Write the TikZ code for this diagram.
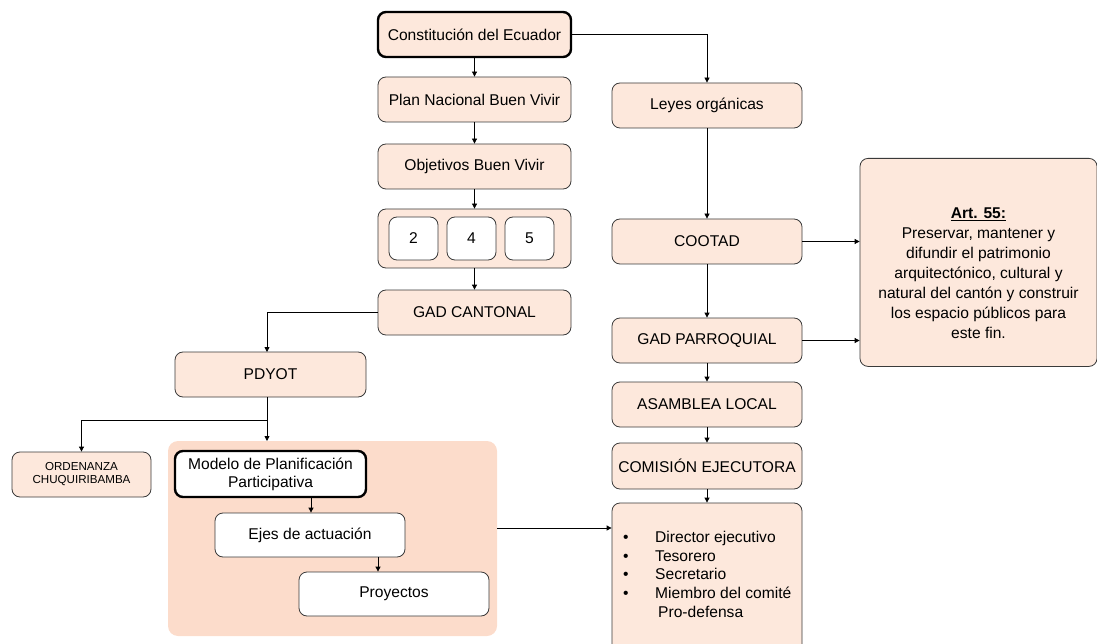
\documentclass[tikz,border=0pt]{standalone}
\usepackage{fontspec}
\setmainfont{Liberation Sans}
\usetikzlibrary{arrows.meta,calc}
\definecolor{boxfill}{HTML}{FDE8DC}
\definecolor{bgfill}{HTML}{FCDCCB}
\definecolor{edge}{HTML}{3A3A3A}
\tikzset{
  bx/.style={draw=edge, line width=0.8pt, fill=boxfill, rounded corners=8pt, align=center, inner sep=2pt, font=\fontsize{15.6}{19}\selectfont},
  thickbx/.style={bx, line width=2.4pt, draw=black},
  whitebx/.style={bx, fill=white},
  arr/.style={draw=black, line width=0.8pt, -{Triangle[width=5pt,length=5pt]}},
  ln/.style={draw=black, line width=0.8pt},
}
\begin{document}
\begin{tikzpicture}[x=1pt,y=-1pt]
\useasboundingbox (0,0) rectangle (1097,644);
\clip (0,0) rectangle (1097,644);
% background group
\node[fill=bgfill, rounded corners=10pt, minimum width=329pt, minimum height=195pt, inner sep=0pt] (bg) at (332.5,538.5) {};
% left column
\node[thickbx, fill=boxfill, minimum width=193pt, minimum height=45pt] (const) at (474.5,34.5) {Constitución del Ecuador};
\node[bx, minimum width=193pt, minimum height=45pt] (plan) at (474.5,99.5) {Plan Nacional Buen Vivir};
\node[bx, minimum width=193pt, minimum height=45pt] (obj) at (474.5,166.5) {Objetivos Buen Vivir};
\node[bx, minimum width=193pt, minimum height=59pt] (cont) at (474.5,238.5) {};
\node[whitebx, minimum width=49pt, minimum height=43pt] (n2) at (413.5,238.5) {2};
\node[whitebx, minimum width=49pt, minimum height=43pt] (n4) at (471.5,238.5) {4};
\node[whitebx, minimum width=49pt, minimum height=43pt] (n5) at (529.5,238.5) {5};
\node[bx, minimum width=193pt, minimum height=45pt] (gadc) at (474.5,312.5) {GAD CANTONAL};
\node[bx, minimum width=191pt, minimum height=45pt] (pdyot) at (270.5,374.5) {PDYOT};
\node[bx, minimum width=139pt, minimum height=45pt, font=\fontsize{11.6}{13}\selectfont] (ord) at (81.5,474.5) {ORDENANZA\\CHUQUIRIBAMBA};
\node[thickbx, fill=white, minimum width=191pt, minimum height=46pt, font=\fontsize{15.6}{18}\selectfont] (modelo) at (270.5,474) {Modelo de Planificación\\Participativa};
\node[whitebx, minimum width=190pt, minimum height=44pt] (ejes) at (310,535) {Ejes de actuación};
\node[whitebx, minimum width=190pt, minimum height=44pt] (proy) at (394,594) {Proyectos};
% right column
\node[bx, minimum width=190pt, minimum height=45pt] (leyes) at (707,105.5) {Leyes orgánicas};
\node[bx, minimum width=190pt, minimum height=45pt] (cootad) at (707,241.5) {COOTAD};
\node[bx, minimum width=190pt, minimum height=45pt] (gadp) at (707,340.5) {GAD PARROQUIAL};
\node[bx, minimum width=190pt, minimum height=45pt] (asam) at (707,404.5) {ASAMBLEA LOCAL};
\node[bx, minimum width=190pt, minimum height=46pt] (com) at (707,466) {COMISIÓN EJECUTORA};
\node[bx, minimum width=190pt, minimum height=150pt] (lista) at (707,578) {};
\node[bx, minimum width=237pt, minimum height=208pt, anchor=north] (art) at (978.5,158) {};
\node[font=\fontsize{15.6}{20}\selectfont, align=center, anchor=north] (arttxt) at (978.5,204) {\underline{\textbf{Art. 55:}}\\Preservar, mantener y\\difundir el patrimonio\\arquitectónico, cultural y\\natural del cantón y construir\\los espacio públicos para\\este fin.};
% list contents
\node[font=\fontsize{15.6}{18.7}\selectfont, align=left, anchor=north west, inner sep=0pt] (listtxt) at (623,531) {%
\makebox[32pt][l]{\textbullet}Director ejecutivo\\
\makebox[32pt][l]{\textbullet}Tesorero\\
\makebox[32pt][l]{\textbullet}Secretario\\
\makebox[32pt][l]{\textbullet}Miembro del comité\\
\hspace*{35pt}Pro-defensa};
% connectors
\draw[arr] (const.south) -- (plan.north);
\draw[arr] (const.east) -| (leyes.north);
\draw[arr] (plan.south) -- (obj.north);
\draw[arr] (obj.south) -- (cont.north);
\draw[arr] (cont.south) -- (gadc.north);
\coordinate (pdtop) at (267,352);
\draw[arr] (gadc.west) -| (pdtop);
\coordinate (pdbot) at (267,397);
\coordinate (bgtop) at (267,441);
\coordinate (split) at (267,420);
\draw[arr] (pdbot) -- (bgtop);
\draw[arr] (split) -| (ord.north);
\draw[arr] (modelo.south -| 311,0) -- (ejes.north -| 311,0);
\draw[arr] (ejes.south -| 378,0) -- (proy.north -| 378,0);
\draw[arr] (bg.east |- 0,528) -- (lista.west |- 0,528);
\draw[arr] (leyes.south) -- (cootad.north);
\draw[arr] (cootad.east) -- (art.west |- cootad.east);
\draw[arr] (cootad.south) -- (gadp.north);
\draw[arr] (gadp.east) -- (art.west |- gadp.east);
\draw[arr] (gadp.south) -- (asam.north);
\draw[arr] (asam.south) -- (com.north);
\draw[arr] (com.south) -- (lista.north);
\end{tikzpicture}
\end{document}
